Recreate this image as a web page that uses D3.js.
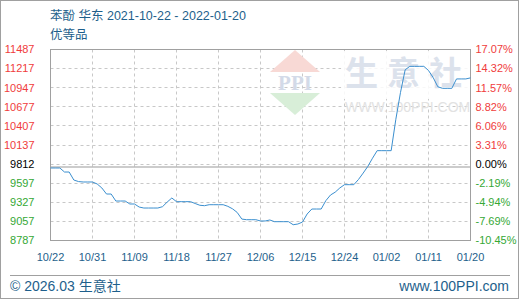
<!DOCTYPE html>
<html>
<head>
<meta charset="utf-8">
<script src="https://cdn.jsdelivr.net/npm/d3@7"></script>
<style>
  body { margin: 0; background: #fff; }
  svg { display: block; }
  .title { fill: #1e5f8c; font-family: "Liberation Sans", "Noto Sans CJK SC", sans-serif; font-size: 12.5px; }
  .ylab { font-family: "Liberation Sans", sans-serif; font-size: 11px; }
  .pctlab { font-family: "Liberation Sans Narrow", "Liberation Sans", sans-serif; font-size: 11px; }
  .xlab { fill: #1e5f8c; font-family: "Liberation Sans", sans-serif; font-size: 11px; }
  .foot { fill: #1e5f8c; font-family: "Liberation Sans", "Noto Sans CJK SC", sans-serif; font-size: 14px; }
</style>
</head>
<body>
<svg id="chart" width="520" height="300"></svg>
<script>
(function() {

  var startDate = '2021-10-22';

  // daily price, yuan/ton
  var prices = [
    9812, 9812, 9812, 9755, 9755, 9642, 9620, 9614, 9614, 9614,
    9586, 9530, 9444, 9444, 9345, 9345, 9345, 9303, 9303, 9260,
    9246, 9246, 9246, 9246, 9265, 9330, 9388, 9336, 9336, 9336,
    9336, 9310, 9285, 9279, 9293, 9293, 9293, 9293, 9270, 9235,
    9184, 9090, 9081, 9081, 9081, 9063, 9063, 9077, 9053, 9053,
    9053, 9053, 9010, 9020, 9048, 9162, 9232, 9232, 9232, 9350,
    9430, 9470, 9530, 9576, 9576, 9576, 9650, 9740, 9835, 9950,
    10057, 10057, 10057, 10057, 10500, 10881, 11200, 11249, 11249, 11249,
    11249, 11190, 11090, 10960, 10938, 10938, 10938, 11071, 11071, 11071,
    11086
  ];

  var basePrice = 9812;
  var yLabels = [11487, 11217, 10947, 10677, 10407, 10137, 9812, 9597, 9327, 9057, 8787];
  var pctLabels = ['17.07%', '14.32%', '11.57%', '8.82%', '6.06%', '3.31%', '0.00%',
                   '-2.19%', '-4.94%', '-7.69%', '-10.45%'];
  var xDates = ['2021-10-22', '2021-10-31', '2021-11-09', '2021-11-18', '2021-11-27', '2021-12-06',
                '2021-12-15', '2021-12-24', '2022-01-02', '2022-01-11', '2022-01-20'];
  var xLabels = ['10/22', '10/31', '11/09', '11/18', '11/27', '12/06',
                 '12/15', '12/24', '01/02', '01/11', '01/20'];

  var margin = { top: 49.5, left: 50.5 },
      width = 420,
      height = 191;

  var parse = d3.timeParse('%Y-%m-%d');
  var start = parse(startDate);

  var data = prices.map(function(v, i) {
    return { date: d3.timeDay.offset(start, i), close: v };
  });

  var xScale = d3.scaleTime()
      .domain([parse(xDates[0]), parse(xDates[xDates.length - 1])])
      .range([0, width]);

  var yScale = d3.scaleLinear()
      .domain([yLabels[yLabels.length - 1], yLabels[0]])
      .range([height, 0]);

  // tick rows are evenly spaced, the base row sits on its grid slot
  var rowScale = d3.scalePoint()
      .domain(d3.range(yLabels.length))
      .range([0, height]);

  var svg = d3.select('#chart');

  svg.append('rect')
      .attr('x', 0.5).attr('y', 0.5)
      .attr('width', 518).attr('height', 298)
      .attr('fill', '#fff')
      .attr('stroke', '#a0a0a0');

  svg.append('text')
      .attr('class', 'title')
      .attr('x', 50).attr('y', 20)
      .text('苯酚 华东 2021-10-22 - 2022-01-20');

  svg.append('text')
      .attr('class', 'title')
      .attr('x', 50).attr('y', 39)
      .text('优等品');

  var g = svg.append('g')
      .attr('transform', 'translate(' + margin.left + ',' + margin.top + ')');

  // grid
  g.append('g')
      .selectAll('line')
      .data(d3.range(1, yLabels.length - 1))
    .enter().append('line')
      .attr('x1', 0).attr('x2', width)
      .attr('y1', function(d) { return Math.round(rowScale(d)); })
      .attr('y2', function(d) { return Math.round(rowScale(d)); })
      .attr('stroke', '#c8c8c8')
      .attr('stroke-dasharray', '3,3');

  g.append('g')
      .selectAll('line')
      .data(xDates.slice(1, -1))
    .enter().append('line')
      .attr('x1', function(d) { return Math.round(xScale(parse(d))); })
      .attr('x2', function(d) { return Math.round(xScale(parse(d))); })
      .attr('y1', 0).attr('y2', height)
      .attr('stroke', '#c8c8c8')
      .attr('stroke-dasharray', '3,3');

  // watermark
  var wm = g.append('g').attr('transform', 'translate(' + (-margin.left) + ',' + (-margin.top) + ')');

  wm.append('rect')
      .attr('x', 341).attr('y', 51)
      .attr('width', 128).attr('height', 48)
      .attr('fill', '#fff').attr('opacity', 0.85);

  wm.append('path')
      .attr('d', 'M295,50 L320,72 L270,72 Z')
      .attr('fill', '#f8d9d5');

  wm.append('path')
      .attr('d', 'M270,93 L320,93 L295,115 Z')
      .attr('fill', '#d8eed8');

  wm.append('text')
      .attr('x', 295).attr('y', 90)
      .attr('text-anchor', 'middle')
      .attr('font-family', 'Liberation Serif, serif')
      .attr('font-weight', 'bold')
      .attr('font-size', 21)
      .attr('fill', '#d3dae8')
      .text('PPI');

  wm.append('text')
      .attr('x', 345).attr('y', 85)
      .attr('font-family', 'Noto Sans CJK SC, sans-serif')
      .attr('font-weight', 'bold')
      .attr('font-size', 33)
      .attr('letter-spacing', 9)
      .attr('fill', '#dce2ec')
      .text('生意社');

  wm.append('text')
      .attr('x', 345).attr('y', 112)
      .attr('font-family', 'Liberation Sans, sans-serif')
      .attr('font-size', 14)
      .attr('fill', '#e2e2e2')
      .text('WWW.100PPI.COM');

  // base line
  g.append('line')
      .attr('x1', 0).attr('x2', width)
      .attr('y1', Math.round(yScale(basePrice)) - 0.5)
      .attr('y2', Math.round(yScale(basePrice)) - 0.5)
      .attr('stroke', '#999');

  g.append('rect')
      .attr('width', width).attr('height', height)
      .attr('fill', 'none')
      .attr('stroke', '#a0a0a0');

  var lineGenerator = d3.line()
      .x(function(d) { return xScale(d.date); })
      .y(function(d) { return yScale(d.close); });

  g.append('path')
      .datum(data)
      .attr('d', lineGenerator)
      .attr('fill', 'none')
      .attr('stroke', '#3b8fcf')
      .attr('stroke-width', 1);

  function valueColor(v) {
    if (v > basePrice) return '#f03c3c';
    if (v < basePrice) return '#35a835';
    return '#000';
  }

  // left price labels
  g.append('g')
      .selectAll('text')
      .data(yLabels)
    .enter().append('text')
      .attr('class', 'ylab')
      .attr('x', -16)
      .attr('y', function(d, i) { return rowScale(i); })
      .attr('dy', '0.35em')
      .attr('text-anchor', 'end')
      .attr('fill', valueColor)
      .text(function(d) { return d; });

  // right percent labels
  g.append('g')
      .selectAll('text')
      .data(pctLabels)
    .enter().append('text')
      .attr('class', 'pctlab')
      .attr('x', width + 5)
      .attr('y', function(d, i) { return rowScale(i); })
      .attr('dy', '0.35em')
      .attr('fill', function(d, i) { return valueColor(yLabels[i]); })
      .text(function(d) { return d; });

  // date labels
  g.append('g')
      .selectAll('text')
      .data(xDates)
    .enter().append('text')
      .attr('class', 'xlab')
      .attr('x', function(d) { return xScale(parse(d)); })
      .attr('y', height + 17)
      .attr('dy', '0.35em')
      .attr('text-anchor', 'middle')
      .text(function(d, i) { return xLabels[i]; });

  // footer
  svg.append('line')
      .attr('x1', 10).attr('x2', 510)
      .attr('y1', 275.5).attr('y2', 275.5)
      .attr('stroke', '#a0a0a0');

  svg.append('text')
      .attr('class', 'foot')
      .attr('x', 10).attr('y', 291)
      .attr('text-anchor', 'start')
      .text('© 2026.03 生意社');

  svg.append('text')
      .attr('class', 'foot')
      .attr('x', 509).attr('y', 291)
      .attr('text-anchor', 'end')
      .text('www.100PPI.com');

})()
</script>
</body>
</html>
